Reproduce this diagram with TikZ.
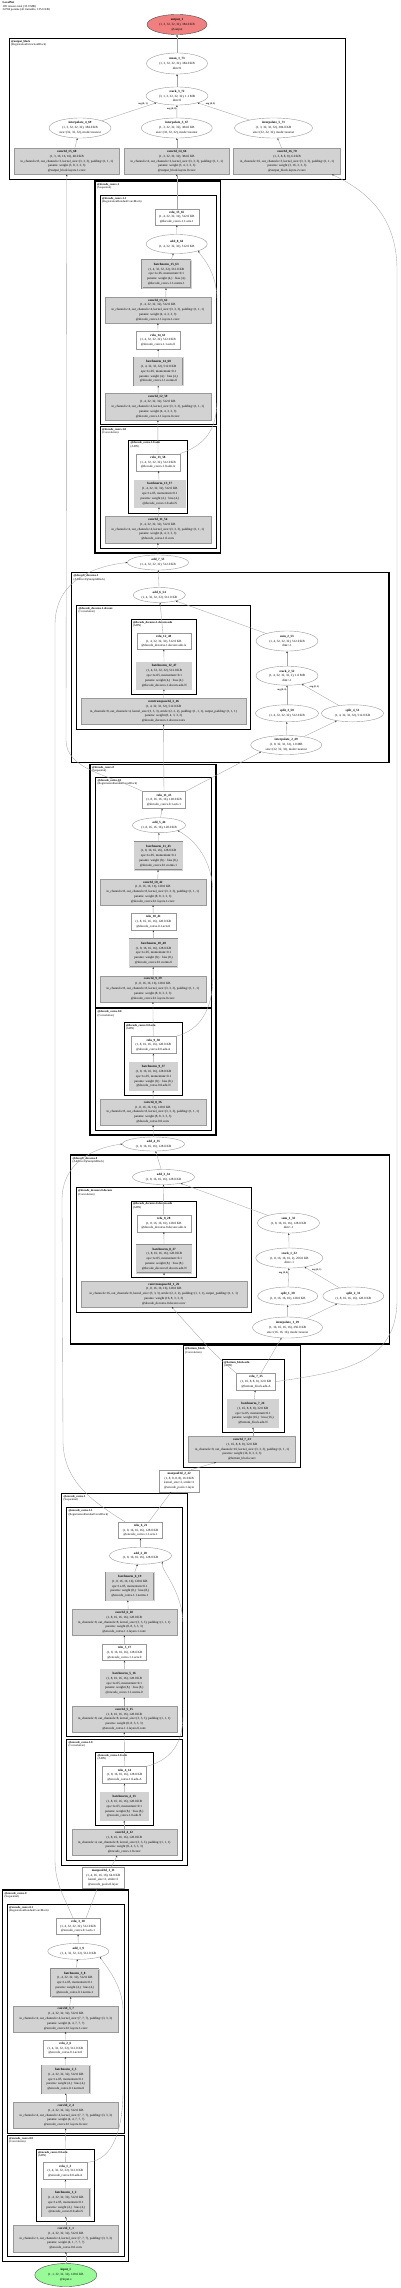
\documentclass[tikz,border=0pt]{standalone}
\usepackage{fontspec}
\setmainfont{Liberation Serif}
\usetikzlibrary{shapes.geometric,arrows.meta}
\newcommand\Z[1]{\makebox[0pt]{#1}}
\newcommand\B[1]{\makebox[0pt]{\textbf{#1}}}
\definecolor{lc}{HTML}{F08080}
\definecolor{pg}{HTML}{98FB98}
\tikzset{
  nf/.style={font=\fontsize{3.2}{4.8}\selectfont},
  bx/.style={rectangle, draw=gray!80, line width=0.4pt, fill=white, inner sep=0pt, align=center, nf},
  pb/.style={bx, fill=gray!35},
  bn/.style={bx, fill=gray!35, draw=gray!90, double=gray!35, double distance=0.45pt, line width=0.35pt},
  ov/.style={ellipse, draw=gray!80, line width=0.4pt, fill=white, inner sep=0pt, align=center, nf},
  wh/.style 2 args={minimum width=#1pt, minimum height=#2pt},
  m1/.style={draw=black, line width=1.3pt},
  m2/.style={draw=black, line width=1.0pt},
  m3/.style={draw=black, line width=0.8pt},
  ml/.style={anchor=north west, inner sep=0pt, align=left, font=\fontsize{2.9}{3.3}\selectfont},
  ed/.style={draw=gray!70, line width=0.35pt, -{Stealth[length=1.8pt,width=1.5pt,color=black!85]}},
  el/.style={font=\bfseries\fontsize{2.4}{2.8}\selectfont, inner sep=0.3pt},
}
\begin{document}
\catcode`\_=12
\begin{tikzpicture}[x=1pt,y=-1pt]
\useasboundingbox (0,0) rectangle (400,2288);
\node[anchor=north west, align=left, inner sep=0pt, font=\fontsize{3}{3.5}\selectfont] (hdr) at (2.5,1.5) {\textbf{LocalNet}\\105 tensors total (33.9 MB)\\34704 params (all trainable, 135.6 KB)};
% ---------- modules ----------
\draw[m1] (9.3,38.3) rectangle (345.7,179.3);
\node[ml] (L1) at (11,40) {\textbf{@output_block}\\(RegistrationExtractionBlock)};
\draw[m1] (95,181) rectangle (220.7,553);
\node[ml] (L2) at (97,183) {\textbf{@decode_convs.1}\\(Sequential)};
\draw[m2] (100,195) rectangle (216,424.3);
\node[ml] (L3) at (102,197) {\textbf{@decode_convs.1.1}\\(RegistrationResidualConvBlock)};
\draw[m2] (100,426) rectangle (216,548.3);
\node[ml] (L4) at (102,428) {\textbf{@decode_convs.1.0}\\(Convolution)};
\draw[m3] (128.7,440) rectangle (187.3,513.3);
\node[ml] (L5) at (130.5,441.5) {\textbf{@decode_convs.1.0.adn}\\(ADN)};
\draw[m1] (71.7,572.7) rectangle (389,762.3);
\node[ml] (L6) at (73.5,574.5) {\textbf{@decode_deconvs.1}\\(AdditiveUpSampleBlock)};
\draw[m2] (76.7,605) rectangle (250.7,729.3);
\node[ml] (L7) at (78.5,607) {\textbf{@decode_deconvs.1.deconv}\\(Convolution)};
\draw[m3] (131,619.3) rectangle (196.7,694.3);
\node[ml] (L8) at (132.8,621) {\textbf{@decode_deconvs.1.deconv.adn}\\(ADN)};
\draw[m1] (90,764.3) rectangle (216,1135);
\node[ml] (L9) at (92,766) {\textbf{@decode_convs.0}\\(Sequential)};
\draw[m2] (95.7,777.3) rectangle (211,1007.3);
\node[ml] (L10) at (97.5,779) {\textbf{@decode_convs.0.1}\\(RegistrationResidualConvBlock)};
\draw[m2] (95.7,1008.5) rectangle (211,1130);
\node[ml] (L11) at (97.5,1010.5) {\textbf{@decode_convs.0.0}\\(Convolution)};
\draw[m3] (124,1022.7) rectangle (182.7,1095.7);
\node[ml] (L12) at (125.8,1024.3) {\textbf{@decode_convs.0.0.adn}\\(ADN)};
\draw[m1] (70.7,1155) rectangle (389.3,1344);
\node[ml] (L13) at (72.5,1157) {\textbf{@decode_deconvs.0}\\(AdditiveUpSampleBlock)};
\draw[m2] (76,1187.7) rectangle (251.7,1312.3);
\node[ml] (L14) at (78,1189.5) {\textbf{@decode_deconvs.0.deconv}\\(Convolution)};
\draw[m3] (131,1201) rectangle (196.7,1277.3);
\node[ml] (L15) at (132.8,1202.7) {\textbf{@decode_deconvs.0.deconv.adn}\\(ADN)};
\draw[m1] (183.3,1345.7) rectangle (300.7,1467.3);
\node[ml] (L16) at (185,1347.5) {\textbf{@bottom_block}\\(Convolution)};
\draw[m2] (222.3,1359.3) rectangle (284,1432.3);
\node[ml] (L17) at (224,1361) {\textbf{@bottom_block.adn}\\(ADN)};
\draw[m1] (61.7,1493.3) rectangle (187.3,1865.7);
\node[ml] (L18) at (63.5,1495) {\textbf{@encode_convs.1}\\(Sequential)};
\draw[m2] (66.7,1507.7) rectangle (182.3,1736.7);
\node[ml] (L19) at (68.5,1509.5) {\textbf{@encode_convs.1.1}\\(RegistrationResidualConvBlock)};
\draw[m2] (66.7,1739) rectangle (182.3,1860.7);
\node[ml] (L20) at (68.5,1741) {\textbf{@encode_convs.1.0}\\(Convolution)};
\draw[m3] (95.7,1752.7) rectangle (153.3,1825.7);
\node[ml] (L21) at (97.5,1754.3) {\textbf{@encode_convs.1.0.adn}\\(ADN)};
\draw[m1] (2.7,1890) rectangle (128.7,2261.7);
\node[ml] (L22) at (4.5,1892) {\textbf{@encode_convs.0}\\(Sequential)};
\draw[m2] (7.3,1904) rectangle (124,2133.3);
\node[ml] (L23) at (9,1906) {\textbf{@encode_convs.0.1}\\(RegistrationResidualConvBlock)};
\draw[m2] (7.3,2135) rectangle (124,2256.7);
\node[ml] (L24) at (9,2137) {\textbf{@encode_convs.0.0}\\(Convolution)};
\draw[m3] (36,2149.3) rectangle (94.7,2221.7);
\node[ml] (L25) at (37.8,2151) {\textbf{@encode_convs.0.0.adn}\\(ADN)};
% ---------- nodes ----------
\node[ov, wh={60}{20}, fill=lc, draw=black!70] (out1) at (177,24.5) {\B{output_1}\\\Z{(1, 3, 32, 32, 32), 384.0 KB}\\\Z{@output}};
\node[ov, wh={61}{21}] (mean) at (177,63.5) {\B{mean_1_73}\\\Z{(1, 3, 32, 32, 32), 384.0 KB}\\\Z{dim=0}};
\node[ov, wh={62}{18}] (stk3) at (177,96) {\B{stack_3_72}\\\Z{(3, 1, 3, 32, 32, 32), 1.1 MB}\\\Z{dim=0}};
\node[ov, wh={62}{20}] (i4) at (80,128) {\B{interpolate_4_69}\\\Z{(1, 3, 32, 32, 32), 384.0 KB}\\\Z{size=(32, 32, 32), mode=nearest}};
\node[ov, wh={71}{20}] (i3) at (176.8,128) {\B{interpolate_3_67}\\\Z{(1, 3, 32, 32, 32), 384.0 KB}\\\Z{size=(32, 32, 32), mode=nearest}};
\node[ov, wh={78}{20}] (i5) at (273.5,128) {\B{interpolate_5_71}\\\Z{(1, 3, 32, 32, 32), 384.0 KB}\\\Z{size=(32, 32, 32), mode=nearest}};
\node[pb, wh={105}{26}] (c15) at (66.8,161.3) {\B{conv3d_15_68}\\\Z{(1, 3, 16, 16, 16), 48.0 KB}\\\Z{in_channels=8, out_channels=3, kernel_size=(3, 3, 3), padding=(1, 1, 1)}\\\Z{params: weight (3, 8, 3, 3, 3)}\\\Z{@output_block.layers.1.conv}};
\node[pb, wh={105}{26}] (c14) at (176.8,161.3) {\B{conv3d_14_66}\\\Z{(1, 3, 32, 32, 32), 384.0 KB}\\\Z{in_channels=4, out_channels=3, kernel_size=(3, 3, 3), padding=(1, 1, 1)}\\\Z{params: weight (3, 4, 3, 3, 3)}\\\Z{@output_block.layers.0.conv}};
\node[pb, wh={107}{26}] (c16) at (287,161.3) {\B{conv3d_16_70}\\\Z{(1, 3, 8, 8, 8), 6.0 KB}\\\Z{in_channels=16, out_channels=3, kernel_size=(3, 3, 3), padding=(1, 1, 1)}\\\Z{params: weight (3, 16, 3, 3, 3)}\\\Z{@output_block.layers.2.conv}};
% decode_convs.1
\node[bx, wh={44}{16}] (r15) at (176.8,217) {\B{relu_15_65}\\\Z{(1, 4, 32, 32, 32), 512.0 KB}\\\Z{@decode_convs.1.1.acts.1}};
\node[ov, wh={61}{19}] (a8) at (176.7,244) {\B{add_8_64}\\\Z{(1, 4, 32, 32, 32), 512.0 KB}};
\node[bn, wh={49}{28}] (bn15) at (166.3,274) {\B{batchnorm_15_63}\\\Z{(1, 4, 32, 32, 32), 512.0 KB}\\\Z{eps=1e-05, momentum=0.1}\\\Z{params: weight (4,) · bias (4,)}\\\Z{@decode_convs.1.1.norms.1}};
\node[pb, wh={106}{26}] (c13) at (157.8,310) {\B{conv3d_13_62}\\\Z{(1, 4, 32, 32, 32), 512.0 KB}\\\Z{in_channels=4, out_channels=4, kernel_size=(3, 3, 3), padding=(1, 1, 1)}\\\Z{params: weight (4, 4, 3, 3, 3)}\\\Z{@decode_convs.1.1.layers.1.conv}};
\node[bx, wh={44}{18}] (r14) at (158,340) {\B{relu_14_61}\\\Z{(1, 4, 32, 32, 32), 512.0 KB}\\\Z{@decode_convs.1.1.acts.0}};
\node[bn, wh={49}{28}] (bn14) at (158.5,371.5) {\B{batchnorm_14_60}\\\Z{(1, 4, 32, 32, 32), 512.0 KB}\\\Z{eps=1e-05, momentum=0.1}\\\Z{params: weight (4,) · bias (4,)}\\\Z{@decode_convs.1.1.norms.0}};
\node[pb, wh={106}{27}] (c12) at (157.8,406.7) {\B{conv3d_12_59}\\\Z{(1, 4, 32, 32, 32), 512.0 KB}\\\Z{in_channels=4, out_channels=4, kernel_size=(3, 3, 3), padding=(1, 1, 1)}\\\Z{params: weight (4, 4, 3, 3, 3)}\\\Z{@decode_convs.1.1.layers.0.conv}};
\node[bx, wh={44}{17}] (r13) at (158,462.3) {\B{relu_13_58}\\\Z{(1, 4, 32, 32, 32), 512.0 KB}\\\Z{@decode_convs.1.0.adn.A}};
\node[bn, wh={51}{27}] (bn13) at (159.8,493.7) {\B{batchnorm_13_57}\\\Z{(1, 4, 32, 32, 32), 512.0 KB}\\\Z{eps=1e-05, momentum=0.1}\\\Z{params: weight (4,) · bias (4,)}\\\Z{@decode_convs.1.0.adn.N}};
\node[pb, wh={106}{27}] (c11) at (157.8,529.3) {\B{conv3d_11_56}\\\Z{(1, 4, 32, 32, 32), 512.0 KB}\\\Z{in_channels=4, out_channels=4, kernel_size=(3, 3, 3), padding=(1, 1, 1)}\\\Z{params: weight (4, 4, 3, 3, 3)}\\\Z{@decode_convs.1.0.conv}};
\node[ov, wh={61}{15}] (a7) at (158,562.5) {\B{add_7_55}\\\Z{(1, 4, 32, 32, 32), 512.0 KB}};
% decode_deconvs.1
\node[ov, wh={52}{15}] (a6) at (159.3,595) {\B{add_6_54}\\\Z{(1, 4, 32, 32, 32), 512.0 KB}};
\node[bx, wh={54}{16}] (r12) at (163.7,641.3) {\B{relu_12_48}\\\Z{(1, 4, 32, 32, 32), 512.0 KB}\\\Z{@decode_deconvs.1.deconv.adn.A}};
\node[bn, wh={55}{27}] (bn12) at (164.2,675.7) {\B{batchnorm_12_47}\\\Z{(1, 4, 32, 32, 32), 512.0 KB}\\\Z{eps=1e-05, momentum=0.1}\\\Z{params: weight (4,) · bias (4,)}\\\Z{@decode_deconvs.1.deconv.adn.N}};
\node[pb, wh={165}{26}] (ct2) at (163.5,711.3) {\B{convtranspose3d_2_46}\\\Z{(1, 4, 32, 32, 32), 512.0 KB}\\\Z{in_channels=8, out_channels=4, kernel_size=(3, 3, 3), stride=(2, 2, 2), padding=(1, 1, 1), output_padding=(1, 1, 1)}\\\Z{params: weight (8, 4, 3, 3, 3)}\\\Z{@decode_deconvs.1.deconv.conv}};
\node[ov, wh={62}{20}] (s2) at (287,641) {\B{sum_2_53}\\\Z{(1, 4, 32, 32, 32), 512.0 KB}\\\Z{dim=-1}};
\node[ov, wh={62}{19}] (st2) at (287,675.7) {\B{stack_2_52}\\\Z{(1, 4, 32, 32, 32, 2), 1.0 MB}\\\Z{dim=-1}};
\node[ov, wh={63}{17}] (sp3) at (287,713.3) {\B{split_3_50}\\\Z{(1, 4, 32, 32, 32), 512.0 KB}};
\node[ov, wh={62}{17}] (sp4) at (352.5,713.3) {\B{split_4_51}\\\Z{(1, 4, 32, 32, 32), 512.0 KB}};
\node[ov, wh={71}{19}] (ip2) at (286.2,745) {\B{interpolate_2_49}\\\Z{(1, 8, 32, 32, 32), 1.0 MB}\\\Z{size=(32, 32, 32), mode=nearest}};
% decode_convs.0
\node[bx, wh={43}{17}] (r11) at (164,800) {\B{relu_11_45}\\\Z{(1, 8, 16, 16, 16), 128.0 KB}\\\Z{@decode_convs.0.1.acts.1}};
\node[ov, wh={53}{15}] (a5) at (159,825.2) {\B{add_5_44}\\\Z{(1, 8, 16, 16, 16), 128.0 KB}};
\node[bn, wh={48}{28}] (bn11) at (158.5,855.8) {\B{batchnorm_11_43}\\\Z{(1, 8, 16, 16, 16), 128.0 KB}\\\Z{eps=1e-05, momentum=0.1}\\\Z{params: weight (8,) · bias (8,)}\\\Z{@decode_convs.0.1.norms.1}};
\node[pb, wh={106}{26}] (c10) at (152.8,892) {\B{conv3d_10_42}\\\Z{(1, 8, 16, 16, 16), 128.0 KB}\\\Z{in_channels=8, out_channels=8, kernel_size=(3, 3, 3), padding=(1, 1, 1)}\\\Z{params: weight (8, 8, 3, 3, 3)}\\\Z{@decode_convs.0.1.layers.1.conv}};
\node[bx, wh={45}{17}] (r10) at (153.3,921.7) {\B{relu_10_41}\\\Z{(1, 8, 16, 16, 16), 128.0 KB}\\\Z{@decode_convs.0.1.acts.0}};
\node[bn, wh={48}{28}] (bn10) at (153.5,953) {\B{batchnorm_10_40}\\\Z{(1, 8, 16, 16, 16), 128.0 KB}\\\Z{eps=1e-05, momentum=0.1}\\\Z{params: weight (8,) · bias (8,)}\\\Z{@decode_convs.0.1.norms.0}};
\node[pb, wh={106}{26}] (c9) at (152.8,988.8) {\B{conv3d_9_39}\\\Z{(1, 8, 16, 16, 16), 128.0 KB}\\\Z{in_channels=8, out_channels=8, kernel_size=(3, 3, 3), padding=(1, 1, 1)}\\\Z{params: weight (8, 8, 3, 3, 3)}\\\Z{@decode_convs.0.1.layers.0.conv}};
\node[bx, wh={45}{17}] (r9) at (153.3,1045) {\B{relu_9_38}\\\Z{(1, 8, 16, 16, 16), 128.0 KB}\\\Z{@decode_convs.0.0.adn.A}};
\node[bn, wh={48}{28}] (bn9) at (153.5,1076.5) {\B{batchnorm_9_37}\\\Z{(1, 8, 16, 16, 16), 128.0 KB}\\\Z{eps=1e-05, momentum=0.1}\\\Z{params: weight (8,) · bias (8,)}\\\Z{@decode_convs.0.0.adn.N}};
\node[pb, wh={106}{26}] (c8) at (152.8,1112) {\B{conv3d_8_36}\\\Z{(1, 8, 16, 16, 16), 128.0 KB}\\\Z{in_channels=8, out_channels=8, kernel_size=(3, 3, 3), padding=(1, 1, 1)}\\\Z{params: weight (8, 8, 3, 3, 3)}\\\Z{@decode_convs.0.0.conv}};
\node[ov, wh={62}{14}] (a4) at (153.5,1144) {\B{add_4_35}\\\Z{(1, 8, 16, 16, 16), 128.0 KB}};
% decode_deconvs.0
\node[ov, wh={62}{15}] (a3) at (163.5,1177) {\B{add_3_34}\\\Z{(1, 8, 16, 16, 16), 128.0 KB}};
\node[bx, wh={54}{17}] (r8) at (163.7,1223.3) {\B{relu_8_28}\\\Z{(1, 8, 16, 16, 16), 128.0 KB}\\\Z{@decode_deconvs.0.deconv.adn.A}};
\node[bn, wh={55}{28}] (bn8) at (164.2,1258.8) {\B{batchnorm_8_27}\\\Z{(1, 8, 16, 16, 16), 128.0 KB}\\\Z{eps=1e-05, momentum=0.1}\\\Z{params: weight (8,) · bias (8,)}\\\Z{@decode_deconvs.0.deconv.adn.N}};
\node[pb, wh={166}{26}] (ct1) at (163.8,1293.8) {\B{convtranspose3d_1_26}\\\Z{(1, 8, 16, 16, 16), 128.0 KB}\\\Z{in_channels=16, out_channels=8, kernel_size=(3, 3, 3), stride=(2, 2, 2), padding=(1, 1, 1), output_padding=(1, 1, 1)}\\\Z{params: weight (16, 8, 3, 3, 3)}\\\Z{@decode_deconvs.0.deconv.conv}};
\node[ov, wh={62}{20}] (s1) at (288.5,1223) {\B{sum_1_33}\\\Z{(1, 8, 16, 16, 16), 128.0 KB}\\\Z{dim=-1}};
\node[ov, wh={67}{20}] (st1) at (289.3,1258) {\B{stack_1_32}\\\Z{(1, 8, 16, 16, 16, 2), 256.0 KB}\\\Z{dim=-1}};
\node[ov, wh={60}{18}] (sp1) at (287.7,1296) {\B{split_1_30}\\\Z{(1, 8, 16, 16, 16), 128.0 KB}};
\node[ov, wh={61}{18}] (sp2) at (353.3,1296) {\B{split_2_31}\\\Z{(1, 8, 16, 16, 16), 128.0 KB}};
\node[ov, wh={70}{21}] (ip1) at (287.5,1327.5) {\B{interpolate_1_29}\\\Z{(1, 16, 16, 16, 16), 256.0 KB}\\\Z{size=(16, 16, 16), mode=nearest}};
% bottom block
\node[bx, wh={39}{17}] (r7) at (256,1381.7) {\B{relu_7_25}\\\Z{(1, 16, 8, 8, 8), 32.0 KB}\\\Z{@bottom_block.adn.A}};
\node[bn, wh={51}{28}] (bn7) at (253,1413.3) {\B{batchnorm_7_24}\\\Z{(1, 16, 8, 8, 8), 32.0 KB}\\\Z{eps=1e-05, momentum=0.1}\\\Z{params: weight (16,) · bias (16,)}\\\Z{@bottom_block.adn.N}};
\node[pb, wh={107}{26}] (c7) at (242,1449.2) {\B{conv3d_7_23}\\\Z{(1, 16, 8, 8, 8), 32.0 KB}\\\Z{in_channels=8, out_channels=16, kernel_size=(3, 3, 3), padding=(1, 1, 1)}\\\Z{params: weight (16, 8, 3, 3, 3)}\\\Z{@bottom_block.conv}};
\node[bx, wh={40}{22}] (mp2) at (179.2,1480.8) {\B{maxpool3d_2_22}\\\Z{(1, 8, 8, 8, 8), 16.0 KB}\\\Z{kernel_size=2, stride=2}\\\Z{@encode_pools.1.layer}};
% encode_convs.1
\node[bx, wh={44}{16}] (r6) at (140.5,1530.3) {\B{relu_6_21}\\\Z{(1, 8, 16, 16, 16), 128.0 KB}\\\Z{@encode_convs.1.1.acts.1}};
\node[ov, wh={62}{17}] (a2) at (140.5,1555.7) {\B{add_2_20}\\\Z{(1, 8, 16, 16, 16), 128.0 KB}};
\node[bn, wh={48}{28}] (bn6) at (129.8,1586.2) {\B{batchnorm_6_19}\\\Z{(1, 8, 16, 16, 16), 128.0 KB}\\\Z{eps=1e-05, momentum=0.1}\\\Z{params: weight (8,) · bias (8,)}\\\Z{@encode_convs.1.1.norms.1}};
\node[pb, wh={105}{26}] (c6) at (124.2,1622.3) {\B{conv3d_6_18}\\\Z{(1, 8, 16, 16, 16), 128.0 KB}\\\Z{in_channels=8, out_channels=8, kernel_size=(3, 3, 3), padding=(1, 1, 1)}\\\Z{params: weight (8, 8, 3, 3, 3)}\\\Z{@encode_convs.1.1.layers.1.conv}};
\node[bx, wh={44}{16}] (r5) at (124.5,1652.5) {\B{relu_5_17}\\\Z{(1, 8, 16, 16, 16), 128.0 KB}\\\Z{@encode_convs.1.1.acts.0}};
\node[bn, wh={48}{28}] (bn5) at (124.2,1683.2) {\B{batchnorm_5_16}\\\Z{(1, 8, 16, 16, 16), 128.0 KB}\\\Z{eps=1e-05, momentum=0.1}\\\Z{params: weight (8,) · bias (8,)}\\\Z{@encode_convs.1.1.norms.0}};
\node[pb, wh={105}{26}] (c5) at (124.2,1719.2) {\B{conv3d_5_15}\\\Z{(1, 8, 16, 16, 16), 128.0 KB}\\\Z{in_channels=8, out_channels=8, kernel_size=(3, 3, 3), padding=(1, 1, 1)}\\\Z{params: weight (8, 8, 3, 3, 3)}\\\Z{@encode_convs.1.1.layers.0.conv}};
\node[bx, wh={44}{17}] (r4) at (124.5,1775) {\B{relu_4_14}\\\Z{(1, 8, 16, 16, 16), 128.0 KB}\\\Z{@encode_convs.1.0.adn.A}};
\node[bn, wh={48}{28}] (bn4) at (124.2,1806.5) {\B{batchnorm_4_13}\\\Z{(1, 8, 16, 16, 16), 128.0 KB}\\\Z{eps=1e-05, momentum=0.1}\\\Z{params: weight (8,) · bias (8,)}\\\Z{@encode_convs.1.0.adn.N}};
\node[pb, wh={105}{26}] (c4) at (124.2,1842.3) {\B{conv3d_4_12}\\\Z{(1, 8, 16, 16, 16), 128.0 KB}\\\Z{in_channels=4, out_channels=8, kernel_size=(3, 3, 3), padding=(1, 1, 1)}\\\Z{params: weight (8, 4, 3, 3, 3)}\\\Z{@encode_convs.1.0.conv}};
\node[bx, wh={42}{21}] (mp1) at (103.3,1877.8) {\B{maxpool3d_1_11}\\\Z{(1, 4, 16, 16, 16), 64.0 KB}\\\Z{kernel_size=2, stride=2}\\\Z{@encode_pools.0.layer}};
% encode_convs.0
\node[bx, wh={44}{16}] (r3) at (78,1926.3) {\B{relu_3_10}\\\Z{(1, 4, 32, 32, 32), 512.0 KB}\\\Z{@encode_convs.0.1.acts.1}};
\node[ov, wh={61}{16}] (a1) at (78.3,1951.3) {\B{add_1_9}\\\Z{(1, 4, 32, 32, 32), 512.0 KB}};
\node[bn, wh={48}{28}] (bn3) at (74.8,1982.8) {\B{batchnorm_3_8}\\\Z{(1, 4, 32, 32, 32), 512.0 KB}\\\Z{eps=1e-05, momentum=0.1}\\\Z{params: weight (4,) · bias (4,)}\\\Z{@encode_convs.0.1.norms.1}};
\node[pb, wh={105}{26}] (c3) at (65.8,2018.7) {\B{conv3d_3_7}\\\Z{(1, 4, 32, 32, 32), 512.0 KB}\\\Z{in_channels=4, out_channels=4, kernel_size=(7, 7, 7), padding=(3, 3, 3)}\\\Z{params: weight (4, 4, 7, 7, 7)}\\\Z{@encode_convs.0.1.layers.1.conv}};
\node[bx, wh={44}{17}] (r2) at (65.3,2048.3) {\B{relu_2_6}\\\Z{(1, 4, 32, 32, 32), 512.0 KB}\\\Z{@encode_convs.0.1.acts.0}};
\node[bn, wh={48}{28}] (bn2) at (65.8,2079.2) {\B{batchnorm_2_5}\\\Z{(1, 4, 32, 32, 32), 512.0 KB}\\\Z{eps=1e-05, momentum=0.1}\\\Z{params: weight (4,) · bias (4,)}\\\Z{@encode_convs.0.1.norms.0}};
\node[pb, wh={105}{26}] (c2) at (65.8,2115.3) {\B{conv3d_2_4}\\\Z{(1, 4, 32, 32, 32), 512.0 KB}\\\Z{in_channels=4, out_channels=4, kernel_size=(7, 7, 7), padding=(3, 3, 3)}\\\Z{params: weight (4, 4, 7, 7, 7)}\\\Z{@encode_convs.0.1.layers.0.conv}};
\node[bx, wh={44}{17}] (r1) at (65.3,2171) {\B{relu_1_3}\\\Z{(1, 4, 32, 32, 32), 512.0 KB}\\\Z{@encode_convs.0.0.adn.A}};
\node[bn, wh={48}{28}] (bn1) at (65.8,2202.5) {\B{batchnorm_1_2}\\\Z{(1, 4, 32, 32, 32), 512.0 KB}\\\Z{eps=1e-05, momentum=0.1}\\\Z{params: weight (4,) · bias (4,)}\\\Z{@encode_convs.0.0.adn.N}};
\node[pb, wh={105}{27}] (c1) at (65.8,2238.3) {\B{conv3d_1_1}\\\Z{(1, 4, 32, 32, 32), 512.0 KB}\\\Z{in_channels=1, out_channels=4, kernel_size=(7, 7, 7), padding=(3, 3, 3)}\\\Z{params: weight (4, 1, 7, 7, 7)}\\\Z{@encode_convs.0.0.conv}};
\node[ov, wh={62}{23}, fill=pg, draw=black!70] (in1) at (65.8,2275) {\B{input_1}\\\Z{(1, 1, 32, 32, 32), 128.0 KB}\\\Z{@input.x}};
% ---------- edges ----------
\draw[ed] (in1) -- (c1);
\draw[ed] (c1) -- (bn1);
\draw[ed] (bn1) -- (r1);
\draw[ed] (r1) -- (c2);
\draw[ed] (c2) -- (bn2);
\draw[ed] (bn2) -- (r2);
\draw[ed] (r2) -- (c3);
\draw[ed] ([xshift=4pt]c3.north) -- ([xshift=-4pt]bn3.south);
\draw[ed] (bn3) -- (a1);
\draw[ed] (a1) -- (r3);
\draw[ed] (r1.north east) .. controls (115,2160) and (123,2125) .. (123,2090) -- (123,2010) .. controls (123,1985) and (105,1965) .. (a1.south east);
\draw[ed] ([xshift=8pt]r3.north) -- ([xshift=-6pt]mp1.south);
\draw[ed] ([xshift=-5pt]r3.north) .. controls (66,1900) and (55,1885) .. (55,1860) -- (55,625) .. controls (55,580) and (95,566) .. (a7.west);
\draw[ed] ([xshift=8pt]mp1.north) -- ([xshift=-7pt]c4.south);
\draw[ed] (c4) -- (bn4);
\draw[ed] (bn4) -- (r4);
\draw[ed] (r4) -- (c5);
\draw[ed] (c5) -- (bn5);
\draw[ed] (bn5) -- (r5);
\draw[ed] (r5) -- (c6);
\draw[ed] ([xshift=4pt]c6.north) -- ([xshift=-2pt]bn6.south);
\draw[ed] (bn6) -- (a2);
\draw[ed] (a2) -- (r6);
\draw[ed] (r4.north east) .. controls (170,1760) and (183,1745) .. (183,1715) -- (183,1625) .. controls (183,1590) and (160,1570) .. (a2.south east);
\draw[ed] ([xshift=8pt]r6.north) -- ([xshift=-8pt]mp2.south);
\draw[ed] ([xshift=-15pt]r6.north) .. controls (90,1500) and (63,1480) .. (63,1440) -- (62,1200) .. controls (62,1165) and (90,1148) .. (a4.west);
\draw[ed] ([xshift=12pt]mp2.north) -- ([xshift=-26pt]c7.south);
\draw[ed] ([xshift=11pt]c7.north) -- (bn7);
\draw[ed] (bn7) -- (r7);
\draw[ed] (r7.north west) .. controls (215,1355) .. ([xshift=8pt]ct1.south);
\draw[ed] (r7) -- (ip1);
\draw[ed] (r7.east) .. controls (340,1372) and (397,1365) .. (397,1300) -- (397,270) .. controls (397,215) and (365,190) .. ([xshift=45pt]c16.south);
\draw[ed] (ct1) -- (bn8);
\draw[ed] (bn8) -- (r8);
\draw[ed] (r8) -- (a3);
\draw[ed] (ip1) -- (sp1);
\draw[ed] (ip1) -- (sp2);
\draw[ed] (sp1) -- node[el, left, pos=0.75] (e1a) {arg (0, 0)} (st1);
\draw[ed] (sp2) -- node[el, above right, pos=0.8] (e1b) {arg (0, 1)} (st1);
\draw[ed] (st1) -- (s1);
\draw[ed] (s1) -- (a3);
\draw[ed] (a3) -- (a4);
\draw[ed] (a4) -- (c8);
\draw[ed] (c8) -- (bn9);
\draw[ed] (bn9) -- (r9);
\draw[ed] (r9) -- (c9);
\draw[ed] (c9) -- (bn10);
\draw[ed] (bn10) -- (r10);
\draw[ed] (r10) -- (c10);
\draw[ed] ([xshift=5pt]c10.north) -- (bn11);
\draw[ed] (bn11) -- (a5);
\draw[ed] (a5) -- (r11);
\draw[ed] (r9.north east) .. controls (200,1030) and (213,1010) .. (213,975) -- (213,895) .. controls (213,860) and (195,840) .. (a5.south east);
\draw[ed] (r11) -- (ct2);
\draw[ed] (r11.north east) -- (ip2.south west);
\draw[ed] (r11.north west) .. controls (110,775) and (66,770) .. (66,740) -- (c15.south);
\draw[ed] (ct2) -- (bn12);
\draw[ed] (bn12) -- (r12);
\draw[ed] (r12) -- (a6);
\draw[ed] (ip2) -- (sp3);
\draw[ed] (ip2) -- (sp4);
\draw[ed] (sp3) -- node[el, left, pos=0.75] (e2a) {arg (0, 0)} (st2);
\draw[ed] (sp4) -- node[el, above right, pos=0.8] (e2b) {arg (0, 1)} (st2);
\draw[ed] (st2) -- (s2);
\draw[ed] (s2) -- (a6);
\draw[ed] (a6) -- (a7);
\draw[ed] (a7) -- (c11);
\draw[ed] (c11) -- (bn13);
\draw[ed] (bn13) -- (r13);
\draw[ed] (r13) -- (c12);
\draw[ed] (c12) -- (bn14);
\draw[ed] (bn14) -- (r14);
\draw[ed] (r14) -- (c13);
\draw[ed] ([xshift=8pt]c13.north) -- (bn15);
\draw[ed] (bn15) -- (a8);
\draw[ed] (a8) -- (r15);
\draw[ed] (r13.north east) .. controls (205,445) and (217,430) .. (217,400) -- (217,300) .. controls (217,270) and (200,255) .. (a8.south east);
\draw[ed] (r15) -- (c14);
\draw[ed] (c14) -- (i3);
\draw[ed] ([xshift=8pt]c15.north) -- (i4);
\draw[ed] (c16) -- (i5);
\draw[ed] (i4) -- node[el, above left, pos=0.85] (e3a) {arg (0, 1)} (stk3);
\draw[ed] (i3) -- node[el, left, pos=0.7] (e3b) {arg (0, 0)} (stk3);
\draw[ed] (i5) -- node[el, above right, pos=0.85] (e3c) {arg (0, 2)} (stk3);
\draw[ed] (stk3) -- (mean);
\draw[ed] (mean) -- (out1);
\end{tikzpicture}
\end{document}
